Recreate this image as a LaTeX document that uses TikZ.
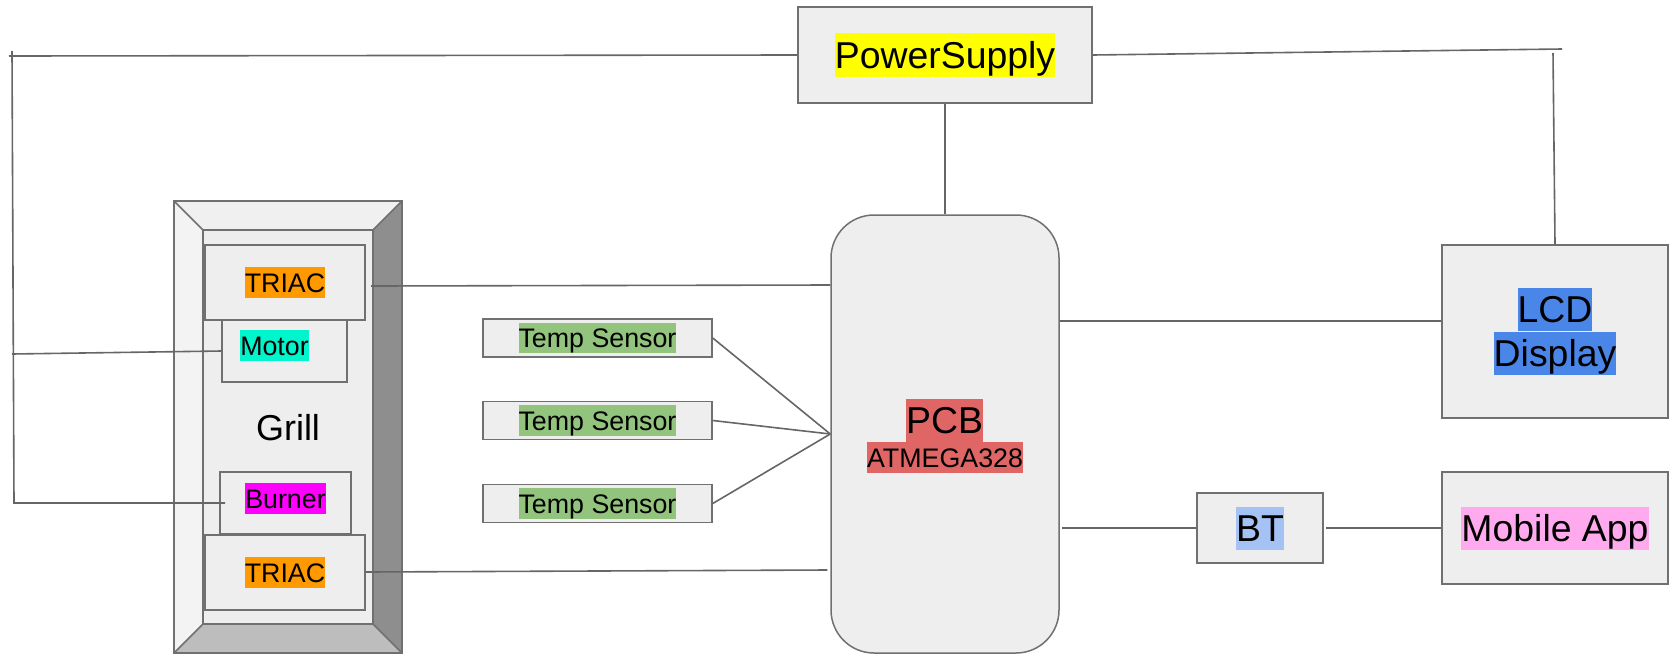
\documentclass[tikz,border=0pt]{standalone}
\usepackage{fontspec}
\setmainfont{Liberation Sans}
\definecolor{boxfill}{HTML}{EEEEEE}
\definecolor{boxline}{HTML}{707070}
\definecolor{wireline}{HTML}{666666}
\definecolor{bevtop}{HTML}{F0F0F0}
\definecolor{bevleft}{HTML}{F3F3F3}
\definecolor{bevright}{HTML}{8E8E8E}
\definecolor{bevbottom}{HTML}{BDBDBD}
\definecolor{hlyellow}{HTML}{FFFF00}
\definecolor{hlorange}{HTML}{FF9900}
\definecolor{hlcyan}{HTML}{00F5CC}
\definecolor{hlmagenta}{HTML}{FF00FF}
\definecolor{hlgreen}{HTML}{93C47D}
\definecolor{hlred}{HTML}{E06666}
\definecolor{hlblue}{HTML}{4A86E8}
\definecolor{hllightblue}{HTML}{A4C2F4}
\definecolor{hlpink}{HTML}{FFAAEE}
\newcommand\bigf{\fontsize{37.4}{43}\selectfont}
\newcommand\smallf{\fontsize{26.8}{31}\selectfont}
\newcommand\hlt[2]{{\setlength{\fboxsep}{0pt}\colorbox{#1}{\rule[-0.22em]{0pt}{1.15em}#2}}}
\begin{document}
\begin{tikzpicture}[x=1pt,y=-1pt,
  box/.style={draw=boxline, fill=boxfill, line width=1.5pt, inner sep=0pt},
  wire/.style={draw=wireline, line width=1.6pt},
  lbl/.style={inner sep=0pt}]
\useasboundingbox (0,0) rectangle (1669,654);
% Grill bevel frame
\fill[bevtop] (174,201) -- (402,201) -- (373,230) -- (203,230) -- cycle;
\fill[bevleft] (174,201) -- (203,230) -- (203,624) -- (174,653) -- cycle;
\fill[bevright] (402,201) -- (402,653) -- (373,624) -- (373,230) -- cycle;
\fill[bevbottom] (174,653) -- (203,624) -- (373,624) -- (402,653) -- cycle;
\draw[draw=boxline, line width=1.5pt] (174,201) rectangle (402,653);
\draw[draw=boxline, line width=1.5pt] (174,201) -- (203,230) (402,201) -- (373,230)
  (174,653) -- (203,624) (402,653) -- (373,624);
\node[box, minimum width=170pt, minimum height=394pt] (grill) at (288,427) {};
\node[lbl, font=\fontsize{36}{41}\selectfont] (grilltxt) at (288,428) {Grill};
% Grill components
\node[box, minimum width=125pt, minimum height=62pt] (motor) at (284.5,351) {};
\node[lbl, font=\smallf] (motortxt) at (274.5,345.5) {\hlt{hlcyan}{Motor}};
\node[box, minimum width=131pt, minimum height=62pt] (burner) at (285.5,503) {};
\node[lbl, font=\smallf] (burnertxt) at (285.5,498.5) {\hlt{hlmagenta}{Burner}};
\node[box, minimum width=160pt, minimum height=75pt, font=\smallf] (triacA) at (285,282.5) {\hlt{hlorange}{TRIAC}};
\node[box, minimum width=160pt, minimum height=75pt, font=\smallf] (triacB) at (285,572.5) {\hlt{hlorange}{TRIAC}};
% Power supply
\node[box, minimum width=294pt, minimum height=96pt, font=\bigf] (ps) at (945,55) {\hlt{hlyellow}{PowerSupply}};
% Sensors
\node[box, minimum width=229pt, minimum height=38pt, font=\smallf] (ts1) at (597.5,338) {\hlt{hlgreen}{Temp Sensor}};
\node[box, minimum width=229pt, minimum height=38pt, font=\smallf] (ts2) at (597.5,420.5) {\hlt{hlgreen}{Temp Sensor}};
\node[box, minimum width=229pt, minimum height=38pt, font=\smallf] (ts3) at (597.5,503.5) {\hlt{hlgreen}{Temp Sensor}};
% PCB
\node[box, rounded corners=43pt, minimum width=228pt, minimum height=438pt] (pcb) at (945,434) {};
\node[lbl, font=\bigf] (pcbtxt) at (944.5,420.5) {\hlt{hlred}{PCB}};
\node[lbl, font=\smallf] (mcutxt) at (945,457.5) {\hlt{hlred}{ATMEGA328}};
% Right side
\node[box, minimum width=226pt, minimum height=173pt, font=\bigf, align=center] (lcd) at (1555,331.5) {\hlt{hlblue}{LCD}\\\hlt{hlblue}{Display}};
\node[box, minimum width=126pt, minimum height=70pt, font=\bigf] (bt) at (1260,528) {\hlt{hllightblue}{BT}};
\node[box, minimum width=226pt, minimum height=112pt, font=\bigf] (app) at (1555,528) {\hlt{hlpink}{Mobile App}};
% Coordinates for free wire ends
\coordinate (psleft) at (9,56);
\coordinate (railtop) at (12,51);
\coordinate (motorleft) at (12,354);
\coordinate (railbot) at (14,503);
\coordinate (burnerin) at (225,503);
\coordinate (psright) at (1562,49);
\coordinate (lcdtop) at (1553,53);
\coordinate (lcdin) at (lcd.west |- 0,321);
\coordinate (triacAout) at (371,286);
\coordinate (triacBout) at (triacB.east |- 0,572);
% Wires
\draw[wire] (ps.west) -- (psleft);
\draw[wire] (railtop) -- (railbot) -- (burnerin);
\draw[wire] (motorleft) -- (motor.west);
\draw[wire] (ps.south) -- (pcb.north);
\draw[wire] (ps.east) -- (psright);
\draw[wire] (lcdtop) -- (lcd.north);
\draw[wire] (triacAout) -- (pcb.west |- 0,285);
\draw[wire] (triacBout) -- ([xshift=-3pt]pcb.west |- 0,570);
\draw[wire] (ts1.east) -- (pcb.west);
\draw[wire] (ts2.east) -- (pcb.west);
\draw[wire] (ts3.east) -- (pcb.west);
\draw[wire] (pcb.east |- lcdin) -- (lcdin);
\draw[wire] ([xshift=2pt]pcb.east |- bt.west) -- (bt.west);
\draw[wire] ([xshift=2pt]bt.east) -- (app.west);
\end{tikzpicture}
\end{document}
